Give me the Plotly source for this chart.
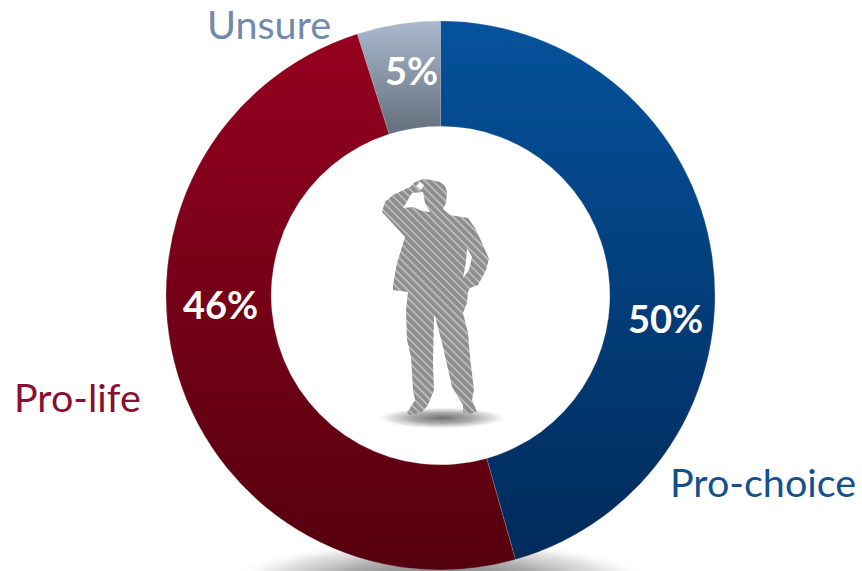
import base64
import plotly.graph_objects as go

W, H = 862, 571
categories = ["Pro-choice", "Pro-life", "Unsure"]
slice_shares = [45.6, 49.5, 4.9]          # angular share as drawn in the picture
percent_labels = ["50%", "46%", "5%"]
base_colors = ["#04529c", "#95001f", "#a9b8cc"]
grad_top = ["#05529c", "#95001f", "#abbacf"]
grad_bottom = ["#002a5a", "#55000f", "#646e7c"]
label_colors = ["#14508f", "#8a1030", "#7189aa"]
percent_pos = [(665, 318), (220, 304), (411, 70)]
label_pos = [(763, 481), (77, 396), (269, 24)]

man = ("M415,182 L423,179 L432,180 L440,182 L445,186 L447,192 L446,203 L443,209 "
       "L450,215 L468,218 L475,228 L483,245 L489,259 L486,270 L478,285 L470,288 "
       "L468,292 L467,303 L463,313 L468,333 L470,357 L474,390 L472,400 L477,412 "
       "L468,414 L463,412 L463,405 L452,387 L443,347 L435,316 L434,317 L433,363 "
       "L434,390 L428,405 L422,412 L410,415 L407,413 L415,400 L413,390 L411,357 "
       "L407,340 L406,310 L408,292 L393,290 L393,285 L397,263 L405,237 L382,212 "
       "L385,202 L393,195 L410,187 Z "
       "M412,193 L403,208 L413,207 L422,211 L430,212 L425,203 L423,192 Z "
       "M467,248 L472,257 L469,270 L463,278 L466,262 Z "
       "M416,186 L420,182 L424,185 L421,190 Z")

svg = f'''<svg xmlns="http://www.w3.org/2000/svg" width="{W}" height="{H}" viewBox="0 0 {W} {H}">
<defs>
<radialGradient id="s"><stop offset="0" stop-color="#707070"/><stop offset="0.5" stop-color="#a4a4a4" stop-opacity="0.9"/><stop offset="0.8" stop-color="#d8d8d8" stop-opacity="0.7"/><stop offset="1" stop-color="#ffffff" stop-opacity="0"/></radialGradient>
<pattern id="h" width="5.6" height="5.6" patternUnits="userSpaceOnUse" patternTransform="rotate(45)">
<rect width="5.6" height="5.6" fill="#8e8e8e"/><rect width="5.6" height="1.5" fill="#c4c4c4"/></pattern>
</defs>
<ellipse cx="442" cy="418" rx="66" ry="11" fill="url(#s)"/>
<ellipse cx="440" cy="580" rx="212" ry="40" fill="url(#s)"/>
<path d="{man}" fill="url(#h)" fill-rule="evenodd"/>
</svg>'''
svg_uri = "data:image/svg+xml;base64," + base64.b64encode(svg.encode()).decode()

fig = go.Figure(go.Pie(
    labels=categories, values=slice_shares, hole=0.617, sort=False,
    direction="clockwise", rotation=0, textinfo="none", hoverinfo="label",
    marker=dict(colors=base_colors, line=dict(color="#b8b8b8", width=0.25)),
    domain=dict(x=[166/W, 715/W], y=[1/H, 550/H]),
    showlegend=False,
))

annotations = []
for t, (x, y) in zip(percent_labels, percent_pos):
    annotations.append(dict(text=f"<b>{t}</b>", x=x/W, y=1-y/H, xref="paper", yref="paper",
                            xanchor="center", yanchor="middle", showarrow=False,
                            font=dict(family="Lato", size=38, color="#ffffff")))
for t, c, (x, y) in zip(categories, label_colors, label_pos):
    annotations.append(dict(text=t, x=x/W, y=1-y/H, xref="paper", yref="paper",
                            xanchor="center", yanchor="middle", showarrow=False,
                            font=dict(family="Lato", size=39.5, color=c)))

fig.update_layout(
    width=W, height=H, margin=dict(l=0, r=0, t=0, b=0),
    paper_bgcolor="#ffffff", annotations=annotations,
    images=[dict(source=svg_uri, xref="paper", yref="paper", x=0, y=1, sizex=1, sizey=1,
                 sizing="stretch", xanchor="left", yanchor="top", layer="below")],
)

stops = [[a, b] for a, b in zip(grad_top, grad_bottom)]
post = """
document.documentElement.style.overflow = 'hidden';
document.body.style.margin = '0';
var stops = %s;
var gd = document.getElementsByClassName('plotly-graph-div')[0];
var svg = gd.querySelector('svg.main-svg');
var NS = 'http://www.w3.org/2000/svg';
var defs = svg.querySelector('defs');
var paths = gd.querySelectorAll('.slice path.surface');
paths.forEach(function(p, i) {
  var g = document.createElementNS(NS, 'linearGradient');
  g.setAttribute('id', 'slicegrad' + i);
  g.setAttribute('x1', '0'); g.setAttribute('y1', '0');
  g.setAttribute('x2', '0'); g.setAttribute('y2', '1');
  stops[i].forEach(function(c, j) {
    var s = document.createElementNS(NS, 'stop');
    s.setAttribute('offset', j); s.setAttribute('stop-color', c);
    g.appendChild(s);
  });
  defs.appendChild(g);
  p.style.fill = 'url(#slicegrad' + i + ')';
});
""" % (stops,)

fig.write_html("out.html", post_script=post, config=dict(displayModeBar=False))
